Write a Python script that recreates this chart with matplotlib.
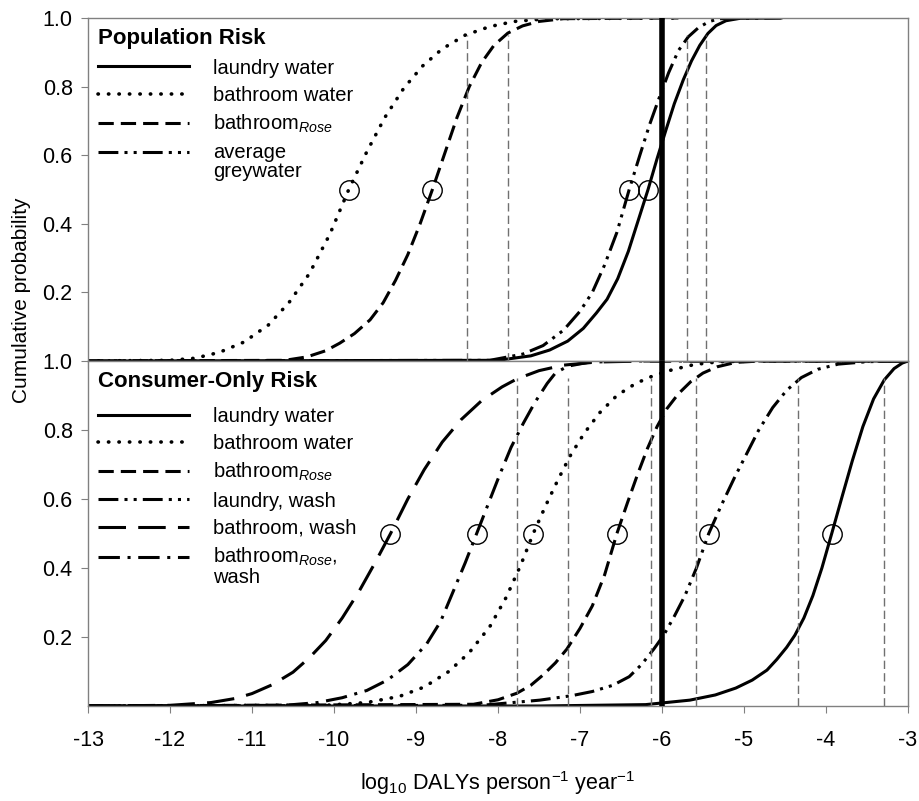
import numpy as np
import matplotlib
matplotlib.use("Agg")
import matplotlib.pyplot as plt
from matplotlib.legend_handler import HandlerLine2D

plt.rcParams['font.family'] = ['Liberation Sans', 'DejaVu Sans']
plt.rcParams['mathtext.fontset'] = 'custom'
plt.rcParams['mathtext.rm'] = 'Liberation Sans'
plt.rcParams['mathtext.it'] = 'Liberation Sans:italic'
plt.rcParams['axes.unicode_minus'] = False

# === DATA ===
# Population risk: cumulative curves (log10 DALY, probability)
pop_laundry_x = [-13, -8.0, -7.6, -7.37, -7.15, -6.96, -6.8, -6.67, -6.54, -6.41, -6.29, -6.17, -6.06, -5.95, -5.85,
                 -5.74, -5.64, -5.54, -5.44, -5.34, -5.22, -5.05, -4.55]
pop_laundry_p = [0, 0.002, 0.015, 0.032, 0.058, 0.095, 0.14, 0.18, 0.24, 0.32, 0.41, 0.5, 0.59, 0.675, 0.75,
                 0.82, 0.875, 0.92, 0.955, 0.978, 0.992, 0.999, 1.0]
pop_bath_x = [-13, -12.0, -11.7, -11.4, -11.1, -10.8, -10.55, -10.3, -10.05, -9.82, -9.6, -9.38, -9.15, -8.92,
              -8.68, -8.4, -8.1, -7.8, -7.4, -5.8]
pop_bath_p = [0, 0.002, 0.008, 0.025, 0.055, 0.105, 0.17, 0.255, 0.37, 0.5, 0.61, 0.71, 0.795, 0.86,
              0.91, 0.95, 0.975, 0.99, 0.998, 1.0]
pop_rose_x = [-13, -10.6, -10.33, -10.1, -9.93, -9.75, -9.56, -9.4, -9.25, -9.1, -8.95, -8.8, -8.65, -8.5, -8.35,
              -8.2, -8.05, -7.88, -7.7, -7.5, -7.2, -5.8]
pop_rose_p = [0, 0.002, 0.012, 0.03, 0.052, 0.08, 0.12, 0.17, 0.235, 0.31, 0.4, 0.5, 0.605, 0.71, 0.8,
              0.87, 0.92, 0.956, 0.977, 0.99, 0.998, 1.0]
pop_grey_x = [-13, -8.1, -7.7, -7.45, -7.2, -7.0, -6.85, -6.7, -6.55, -6.4, -6.27, -6.15, -6.03, -5.92, -5.8,
              -5.68, -5.55, -5.42, -5.3, -4.55]
pop_grey_p = [0, 0.002, 0.02, 0.045, 0.09, 0.145, 0.2, 0.28, 0.375, 0.5, 0.6, 0.69, 0.77, 0.84, 0.905,
              0.945, 0.973, 0.99, 0.998, 1.0]

# Consumer-only risk
con_laun_x = [-13, -7.5, -6.2, -5.66, -5.35, -5.1, -4.9, -4.72, -4.6, -4.48, -4.38, -4.27, -4.16, -4.05, -3.93,
              -3.8, -3.68, -3.55, -3.42, -3.29, -3.17, -3.07, -3.0]
con_laun_p = [0, 0.0, 0.004, 0.017, 0.032, 0.052, 0.075, 0.104, 0.135, 0.17, 0.205, 0.255, 0.32, 0.40, 0.5,
              0.61, 0.71, 0.81, 0.89, 0.945, 0.978, 0.994, 1.0]
con_bath_x = [-13, -10.1, -9.6, -9.2, -8.9, -8.6, -8.35, -8.1, -7.9, -7.72, -7.57, -7.42, -7.27, -7.12, -6.95,
              -6.76, -6.55, -6.32, -6.1, -5.87, -5.6, -5.3, -4.8, -3.0]
con_bath_p = [0, 0.002, 0.01, 0.028, 0.055, 0.1, 0.155, 0.23, 0.315, 0.41, 0.5, 0.58, 0.655, 0.725, 0.79,
              0.85, 0.9, 0.935, 0.958, 0.975, 0.99, 0.998, 1.0, 1.0]
con_rose_x = [-13, -8.3, -8.0, -7.77, -7.6, -7.45, -7.3, -7.16, -7.0, -6.85, -6.7, -6.55, -6.42, -6.3, -6.18,
              -6.06, -5.94, -5.8, -5.65, -5.5, -5.33, -5.1, -4.8, -3.0]
con_rose_p = [0, 0.005, 0.018, 0.037, 0.06, 0.09, 0.125, 0.165, 0.225, 0.29, 0.38, 0.5, 0.59, 0.67, 0.745,
              0.81, 0.862, 0.905, 0.94, 0.965, 0.983, 0.996, 1.0, 1.0]
con_washlaun_x = [-13, -8.2, -7.49, -7.1, -6.85, -6.6, -6.4, -6.25, -6.1, -5.98, -5.85, -5.72, -5.58, -5.43,
                  -5.28, -5.12, -4.97, -4.82, -4.65, -4.48, -4.3, -4.1, -3.85, -3.5, -3.0]
con_washlaun_p = [0, 0.002, 0.017, 0.03, 0.042, 0.06, 0.085, 0.12, 0.165, 0.205, 0.26, 0.32, 0.4, 0.5,
                  0.58, 0.66, 0.73, 0.8, 0.865, 0.915, 0.952, 0.976, 0.991, 0.998, 1.0]
con_washbath_x = [-13, -12.0, -11.5, -11.2, -11.0, -10.75, -10.5, -10.3, -10.1, -9.9, -9.7, -9.5, -9.31, -9.1,
                  -8.9, -8.68, -8.45, -8.2, -7.95, -7.77, -7.5, -7.2, -6.8, -6.2, -3.0]
con_washbath_p = [0, 0.002, 0.01, 0.022, 0.036, 0.062, 0.098, 0.14, 0.19, 0.255, 0.33, 0.415, 0.5, 0.6,
                  0.685, 0.765, 0.83, 0.885, 0.925, 0.948, 0.972, 0.988, 0.997, 1.0, 1.0]
con_washrose_x = [-13, -10.6, -10.2, -9.9, -9.6, -9.35, -9.1, -8.87, -8.7, -8.55, -8.4, -8.26, -8.12, -7.98,
                  -7.84, -7.69, -7.55, -7.4, -7.3, -7.15, -6.9, -6.5, -3.0]
con_washrose_p = [0, 0.002, 0.01, 0.024, 0.045, 0.075, 0.12, 0.18, 0.245, 0.33, 0.415, 0.5, 0.585, 0.67,
                  0.75, 0.82, 0.88, 0.935, 0.965, 0.985, 0.996, 1.0, 1.0]

# medians (open circles) and 95th percentiles (thin dashed lines)
pop_medians = [-6.17, -9.82, -8.80, -6.40]
pop_p95 = [-8.38, -7.88, -5.70, -5.46]
con_medians = [-3.93, -7.57, -6.55, -5.43, -9.32, -8.26]
con_p95 = [-7.77, -7.15, -6.13, -5.59, -4.34, -3.29]
threshold = -6  # tolerable risk 1e-6 DALY

# === STYLES ===
LW = 2.2
ls_solid = '-'
ls_dot = (0, (0.1, 2.8))
ls_dash = (0, (5, 2.3))
ls_dashdotdot = (0, (6.5, 2, 1, 2, 1, 2))
ls_longdash = (0, (9, 4))
ls_dashdot = (0, (7, 2.5, 1, 2.5))
LEG_FS = 14.5
LEG_SPACING = 0.4


class FirstLineHandler(HandlerLine2D):
    # put the handle next to the first line of a two-line label
    def create_artists(self, legend, orig_handle, xdescent, ydescent, width,
                       height, fontsize, trans):
        arts = super().create_artists(legend, orig_handle, xdescent, ydescent,
                                      width, height, fontsize, trans)
        for a in arts:
            a.set_ydata(np.asarray(a.get_ydata()) + 0.5 * fontsize)
        return arts


def make_legend(ax, handles, title, two_line, title_gap):
    leg = ax.legend(handles=handles, loc='upper left', bbox_to_anchor=(0, 1),
                    frameon=False, fontsize=LEG_FS, title=title,
                    title_fontproperties={'weight': 'bold', 'size': 16},
                    alignment='left', handlelength=4.5, handletextpad=1.2,
                    labelspacing=LEG_SPACING, borderpad=0.3, borderaxespad=0.2,
                    handler_map={two_line: FirstLineHandler()})
    for t in leg.get_texts():
        t.set_linespacing(1.0)
    # room between title and entries
    leg._legend_box.sep = LEG_SPACING * LEG_FS + title_gap
    return leg


fig = plt.figure(figsize=(9.2, 8.01), dpi=100)
ax1 = fig.add_axes([88 / 920, 1 - 361 / 801, 820 / 920, 343 / 801])
ax2 = fig.add_axes([88 / 920, 1 - 706 / 801, 820 / 920, 345 / 801])

# === TOP PANEL ===
l1, = ax1.plot(pop_laundry_x, pop_laundry_p, ls=ls_solid, color='k', lw=LW, label='laundry water')
l2, = ax1.plot(pop_bath_x, pop_bath_p, ls=ls_dot, color='k', lw=LW + 0.4, dash_capstyle='round', label='bathroom water')
l3, = ax1.plot(pop_rose_x, pop_rose_p, ls=ls_dash, color='k', lw=LW, label=r'bathroom$_{\mathit{Rose}}$')
l4, = ax1.plot(pop_grey_x, pop_grey_p, ls=ls_dashdotdot, color='k', lw=LW, label='average\ngreywater')
ax1.vlines(pop_p95, 0, 0.95, color='#707070', lw=1.0, ls=(0, (6, 3)))
ax1.plot(pop_medians, [0.5] * len(pop_medians), 'o', ms=14, mfc='none', mec='k', mew=1.0)
ax1.axvline(threshold, color='k', lw=4, zorder=5)
make_legend(ax1, [l1, l2, l3, l4], 'Population Risk', l4, 1)

# === BOTTOM PANEL ===
m1, = ax2.plot(con_laun_x, con_laun_p, ls=ls_solid, color='k', lw=LW, label='laundry water')
m2, = ax2.plot(con_bath_x, con_bath_p, ls=ls_dot, color='k', lw=LW + 0.4, dash_capstyle='round', label='bathroom water')
m3, = ax2.plot(con_rose_x, con_rose_p, ls=ls_dash, color='k', lw=LW, label=r'bathroom$_{\mathit{Rose}}$')
m4, = ax2.plot(con_washlaun_x, con_washlaun_p, ls=ls_dashdotdot, color='k', lw=LW, label='laundry, wash')
m5, = ax2.plot(con_washbath_x, con_washbath_p, ls=ls_longdash, color='k', lw=LW, label='bathroom, wash')
m6, = ax2.plot(con_washrose_x, con_washrose_p, ls=ls_dashdot, color='k', lw=LW, label='bathroom$_{\\mathit{Rose}}$,\nwash')
ax2.vlines(con_p95, 0, 0.95, color='#707070', lw=1.0, ls=(0, (6, 3)))
ax2.plot(con_medians, [0.5] * len(con_medians), 'o', ms=14, mfc='none', mec='k', mew=1.0)
ax2.axvline(threshold, color='k', lw=4, zorder=5)
make_legend(ax2, [m1, m2, m3, m4, m5, m6], 'Consumer-Only Risk', m6, 5)

# === AXES ===
for ax in (ax1, ax2):
    ax.set_xlim(-13, -3)
    ax.set_ylim(0, 1)
    ax.set_xticks(range(-13, -2))
    ax.set_yticks([0.2, 0.4, 0.6, 0.8, 1.0])
    ax.set_yticklabels(['0.2', '0.4', '0.6', '0.8', '1.0'])
    for s in ax.spines.values():
        s.set_color('#808080')
        s.set_linewidth(1.0)
    ax.tick_params(direction='out', length=5, color='#808080', labelsize=15.5, pad=6)

ax1.tick_params(axis='x', labelbottom=False)
ax2.set_xticklabels([str(v) for v in range(-13, -2)])
ax2.tick_params(axis='x', pad=12)

fig.text(0.5 * (88 + 908) / 920, 1 - 783 / 801,
         r'log$_{10}$ DALYs person$^{-1}$ year$^{-1}$',
         ha='center', va='center', fontsize=15.5)
fig.text(22 / 920, 1 - 300 / 801, 'Cumulative probability', rotation=90,
         ha='center', va='center', fontsize=15)

plt.savefig('out.png', dpi=100)
